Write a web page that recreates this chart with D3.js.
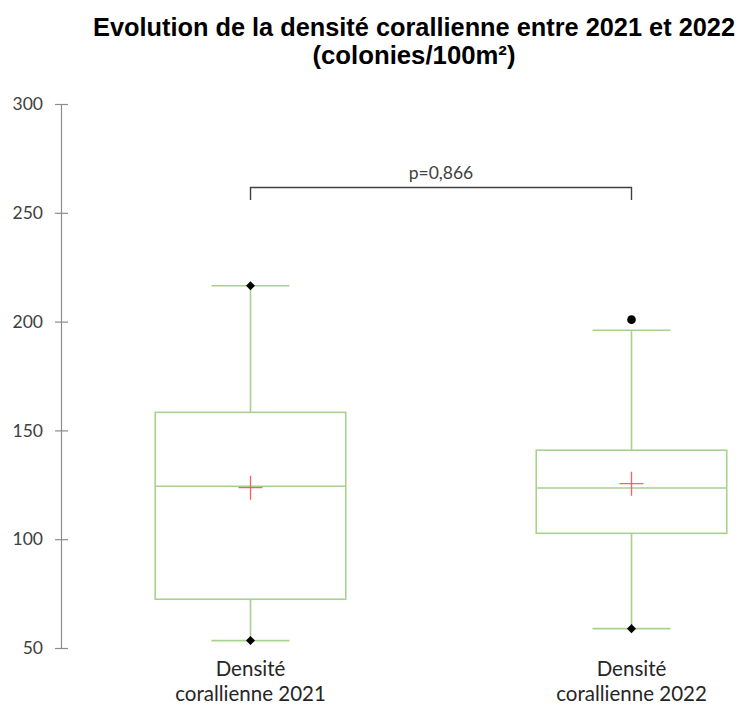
<!DOCTYPE html>
<html>
<head>
<meta charset="utf-8">
<script src="https://cdn.jsdelivr.net/npm/d3@7"></script>
<style>
  html, body { margin: 0; padding: 0; background: #fff; }
  svg { display: block; }
</style>
</head>
<body>
<svg id="chart" width="739" height="706"></svg>
<script>
// Box-plot statistics, colonies per 100 m²
const categories = ["Densité corallienne 2021", "Densité corallienne 2022"];
const q1Values     = [72.4, 102.7];
const medianValues = [124.3, 123.5];
const q3Values     = [158.3, 140.9];
const whiskerLow   = [53.4, 58.9];
const whiskerHigh  = [216.5, 196.0];
const meanValues   = [123.7, 125.5];
const minValues    = [53.4, 58.9];
const maxValues    = [216.5, null];
const outlierValues = [[], [200.9]];
const yTicks = [50, 100, 150, 200, 250, 300];
const pValueLabel = "p=0,866";
const titleLines = ["Evolution de la densité corallienne entre 2021 et 2022", "(colonies/100m²)"];
const titleWidths = [642, 203];

const svg = d3.select("#chart");

const y = d3.scaleLinear().domain([50, 300]).range([648, 104]);
const x = d3.scaleBand().domain(categories).range([60, 822]).paddingInner(0).paddingOuter(0);
const boxW = x.bandwidth() * 0.5;
const capW = 78;
const cx = c => x(c) + x.bandwidth() / 2;

const green = "#a9d18e";
const axisGrey = "#8c8c8c";
const textGrey = "#404040";

// Title
svg.append("g").selectAll("text").data(titleLines).join("text")
  .attr("x", 414)
  .attr("y", (d, i) => 36 + i * 28)
  .attr("text-anchor", "middle")
  .attr("font-family", "Liberation Sans, Arial, sans-serif")
  .attr("font-weight", "bold")
  .attr("font-size", 25)
  .attr("textLength", (d, i) => titleWidths[i])
  .attr("lengthAdjust", "spacingAndGlyphs")
  .attr("fill", "#000")
  .text(d => d);

// Y axis
const axis = svg.append("g")
  .attr("transform", "translate(61,0)")
  .call(d3.axisLeft(y).tickValues(yTicks).tickSize(0).tickPadding(18).tickFormat(d3.format("d")));
axis.select(".domain").attr("stroke", axisGrey).attr("stroke-width", 1.2);
axis.selectAll(".tick text")
  .attr("font-family", "Lato, 'Open Sans', sans-serif")
  .attr("font-size", 17.5)
  .attr("fill", textGrey);
axis.selectAll(".tick").append("line")
  .attr("x1", -6).attr("x2", 7)
  .attr("stroke", axisGrey).attr("stroke-width", 1.2);

// Boxes
const g = svg.append("g");
categories.forEach((c, i) => {
  const xc = cx(c);
  // whiskers
  g.append("line").attr("x1", xc).attr("x2", xc)
    .attr("y1", y(q3Values[i])).attr("y2", y(whiskerHigh[i]))
    .attr("stroke", green).attr("stroke-width", 1.6);
  g.append("line").attr("x1", xc).attr("x2", xc)
    .attr("y1", y(q1Values[i])).attr("y2", y(whiskerLow[i]))
    .attr("stroke", green).attr("stroke-width", 1.6);
  [whiskerHigh[i], whiskerLow[i]].forEach(v => {
    g.append("line").attr("x1", xc - capW / 2).attr("x2", xc + capW / 2)
      .attr("y1", y(v)).attr("y2", y(v))
      .attr("stroke", green).attr("stroke-width", 1.6);
  });
  // box
  g.append("rect")
    .attr("x", xc - boxW / 2).attr("width", boxW)
    .attr("y", y(q3Values[i])).attr("height", y(q1Values[i]) - y(q3Values[i]))
    .attr("fill", "none").attr("stroke", green).attr("stroke-width", 1.6);
  g.append("line").attr("x1", xc - boxW / 2).attr("x2", xc + boxW / 2)
    .attr("y1", y(medianValues[i])).attr("y2", y(medianValues[i]))
    .attr("stroke", green).attr("stroke-width", 1.6);
  // mean
  const my = y(meanValues[i]);
  g.append("path")
    .attr("d", `M${xc - 12},${my}H${xc + 12}M${xc},${my - 12}V${my + 12}`)
    .attr("stroke", "#ff5f5f").attr("stroke-width", 1.3).attr("fill", "none");
  // min / max markers
  [minValues[i], maxValues[i]].filter(v => v != null).forEach(v => {
    g.append("path")
      .attr("d", d3.symbol(d3.symbolDiamond2, 52)())
      .attr("transform", `translate(${xc},${y(v)})`)
      .attr("fill", "#000");
  });
  // outliers
  outlierValues[i].forEach(v => {
    g.append("circle").attr("cx", xc).attr("cy", y(v)).attr("r", 4.3).attr("fill", "#000");
  });
});

// Category labels (two lines)
svg.append("g").selectAll("text").data(categories).join("text")
  .attr("x", d => cx(d))
  .attr("y", 676)
  .attr("text-anchor", "middle")
  .attr("font-family", "Lato, 'Open Sans', sans-serif")
  .attr("font-size", 20.5)
  .attr("fill", "#262626")
  .each(function (d) {
    const parts = d.split(" ");
    const t = d3.select(this);
    t.append("tspan").attr("x", cx(d)).attr("dy", 0).text(parts[0]);
    t.append("tspan").attr("x", cx(d)).attr("dy", 25).text(parts.slice(1).join(" "));
  });

// Significance bracket
const bx1 = cx(categories[0]), bx2 = cx(categories[1]);
svg.append("path")
  .attr("d", `M${bx1},200V187.5H${bx2}V200`)
  .attr("fill", "none").attr("stroke", textGrey).attr("stroke-width", 1.4);
svg.append("text")
  .attr("x", (bx1 + bx2) / 2).attr("y", 179)
  .attr("text-anchor", "middle")
  .attr("font-family", "Lato, 'Open Sans', sans-serif")
  .attr("font-size", 17.5)
  .attr("fill", textGrey)
  .text(pValueLabel);
</script>
</body>
</html>
